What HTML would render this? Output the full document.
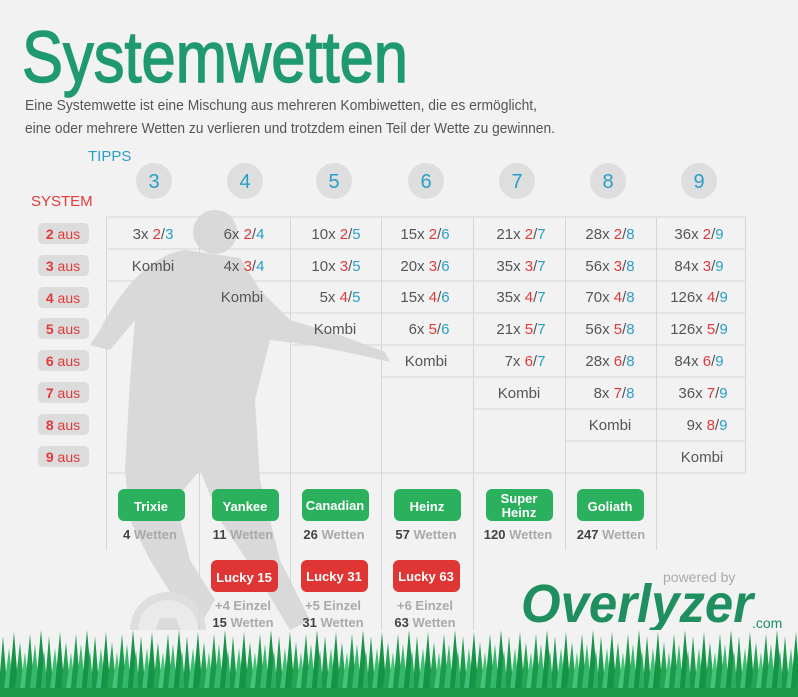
<!DOCTYPE html>
<html><head><meta charset="utf-8"><style>
html,body{margin:0;padding:0;background:#f2f2f2;}
svg{display:block;}
text{font-family:"Liberation Sans",sans-serif;}
</style></head><body>
<svg width="798" height="697" viewBox="0 0 798 697" xmlns="http://www.w3.org/2000/svg">
<defs>
<pattern id="grass" x="0" y="630" width="46" height="67" patternUnits="userSpaceOnUse">
<rect width="46" height="67" fill="#f2f2f2"/>
<polygon points="-2,67 3,6 8,67" fill="#1c9a4b"/>
<polygon points="3,67 9,18 14,67" fill="#3cbf73"/>
<polygon points="8,67 14,2 19,67" fill="#169446"/>
<polygon points="14,67 20,12 25,67" fill="#23a553"/>
<polygon points="19,67 25,22 30,67" fill="#45c47a"/>
<polygon points="24,67 30,4 35,67" fill="#1c9a4b"/>
<polygon points="29,67 35,14 40,67" fill="#34b86a"/>
<polygon points="35,67 41,0 47,67" fill="#169446"/>
<polygon points="40,67 44,20 48,67" fill="#2aae60"/>
<rect y="58" width="46" height="9" fill="#1a9a4a"/>
</pattern>
</defs>
<rect width="798" height="697" fill="#f2f2f2"/>

<!-- silhouette -->
<g fill="#d9d9d9">
<circle cx="215" cy="232" r="22"/>
<path d="M185,250 C150,255 120,290 100,330 L90,345 L110,350 L135,320 L130,380 L125,470 L130,520 L150,560 L175,600 L200,625 L215,600 L190,560 L175,500 L200,470 L220,520 L260,580 L290,630 L310,620 L280,560 L260,480 L255,400 L270,340 L310,345 L360,355 L390,362 L385,352 L340,335 L290,320 L260,290 L240,258 Z"/>
<circle cx="168" cy="630" r="38" fill="#dedede"/>
<circle cx="168" cy="630" r="30" fill="#eaeaea"/>
<polygon points="160,618 176,618 182,634 168,645 154,634" fill="#dadada"/>
</g>

<text x="22" y="82" font-size="72" fill="#1f9a6e" stroke="#1f9a6e" stroke-width="1.5" textLength="386" lengthAdjust="spacingAndGlyphs">Systemwetten</text>
<text x="25" y="110" font-size="15" fill="#555" textLength="512" lengthAdjust="spacingAndGlyphs">Eine Systemwette ist eine Mischung aus mehreren Kombiwetten, die es ermöglicht,</text>
<text x="25" y="133" font-size="15" fill="#555" textLength="530" lengthAdjust="spacingAndGlyphs">eine oder mehrere Wetten zu verlieren und trotzdem einen Teil der Wette zu gewinnen.</text>

<text x="88" y="161" font-size="15" fill="#2a9fc9">TIPPS</text>
<text x="31" y="206" font-size="15" fill="#e03a3a">SYSTEM</text>

<g fill="#dedede">
<circle cx="154" cy="181" r="18"/><circle cx="245" cy="181" r="18"/><circle cx="334" cy="181" r="18"/>
<circle cx="426" cy="181" r="18"/><circle cx="517" cy="181" r="18"/><circle cx="608" cy="181" r="18"/><circle cx="699" cy="181" r="18"/>
</g>
<g font-size="20" fill="#2a9fc9" text-anchor="middle">
<text x="154" y="188">3</text><text x="245" y="188">4</text><text x="334" y="188">5</text>
<text x="426" y="188">6</text><text x="517" y="188">7</text><text x="608" y="188">8</text><text x="699" y="188">9</text>
</g>

<g fill="#dcdcdc">
<rect x="38" y="223" width="51" height="21" rx="5"/><rect x="38" y="255" width="51" height="21" rx="5"/>
<rect x="38" y="287" width="51" height="21" rx="5"/><rect x="38" y="318" width="51" height="21" rx="5"/>
<rect x="38" y="350" width="51" height="21" rx="5"/><rect x="38" y="382" width="51" height="21" rx="5"/>
<rect x="38" y="414" width="51" height="21" rx="5"/><rect x="38" y="446" width="51" height="21" rx="5"/>
</g>
<g font-size="14" fill="#e03a3a" text-anchor="middle">
<text x="63" y="239"><tspan font-weight="bold">2</tspan> aus</text>
<text x="63" y="271"><tspan font-weight="bold">3</tspan> aus</text>
<text x="63" y="303"><tspan font-weight="bold">4</tspan> aus</text>
<text x="63" y="334"><tspan font-weight="bold">5</tspan> aus</text>
<text x="63" y="366"><tspan font-weight="bold">6</tspan> aus</text>
<text x="63" y="398"><tspan font-weight="bold">7</tspan> aus</text>
<text x="63" y="430"><tspan font-weight="bold">8</tspan> aus</text>
<text x="63" y="462"><tspan font-weight="bold">9</tspan> aus</text>
</g>

<g stroke="#d6d6d6" stroke-width="1" fill="none">
<line x1="106" y1="217" x2="745" y2="217"/>
<line x1="106" y1="473" x2="745" y2="473"/>
<line x1="106.5" y1="217" x2="106.5" y2="550"/>
<line x1="199.5" y1="217" x2="199.5" y2="635"/>
<line x1="290.5" y1="217" x2="290.5" y2="635"/>
<line x1="381.5" y1="217" x2="381.5" y2="635"/>
<line x1="473.5" y1="217" x2="473.5" y2="635"/>
<line x1="565.5" y1="217" x2="565.5" y2="550"/>
<line x1="656.5" y1="217" x2="656.5" y2="550"/>
<line x1="745.5" y1="217" x2="745.5" y2="473"/>
<line x1="106" y1="249" x2="199" y2="249"/><line x1="106" y1="281" x2="199" y2="281"/>
<line x1="199" y1="249" x2="290" y2="249"/><line x1="199" y1="281" x2="290" y2="281"/><line x1="199" y1="313" x2="290" y2="313"/>
<line x1="290" y1="249" x2="381" y2="249"/><line x1="290" y1="281" x2="381" y2="281"/><line x1="290" y1="313" x2="381" y2="313"/><line x1="290" y1="345" x2="381" y2="345"/>
<line x1="381" y1="249" x2="473" y2="249"/><line x1="381" y1="281" x2="473" y2="281"/><line x1="381" y1="313" x2="473" y2="313"/><line x1="381" y1="345" x2="473" y2="345"/><line x1="381" y1="377" x2="473" y2="377"/>
<line x1="473" y1="249" x2="565" y2="249"/><line x1="473" y1="281" x2="565" y2="281"/><line x1="473" y1="313" x2="565" y2="313"/><line x1="473" y1="345" x2="565" y2="345"/><line x1="473" y1="377" x2="565" y2="377"/><line x1="473" y1="409" x2="565" y2="409"/>
<line x1="565" y1="249" x2="745" y2="249"/><line x1="565" y1="281" x2="745" y2="281"/><line x1="565" y1="313" x2="745" y2="313"/><line x1="565" y1="345" x2="745" y2="345"/><line x1="565" y1="377" x2="745" y2="377"/><line x1="565" y1="409" x2="745" y2="409"/><line x1="565" y1="441" x2="745" y2="441"/>
</g>

<g font-size="15" fill="#555" text-anchor="middle">
<text x="153" y="239">3x <tspan fill="#e03a3a">2</tspan>/<tspan fill="#2a9fc9">3</tspan></text>
<text x="153" y="271">Kombi</text>
<text x="244" y="239">6x <tspan fill="#e03a3a">2</tspan>/<tspan fill="#2a9fc9">4</tspan></text>
<text x="244" y="271">4x <tspan fill="#e03a3a">3</tspan>/<tspan fill="#2a9fc9">4</tspan></text>
<text x="242" y="302">Kombi</text>
<text x="336" y="239">10x <tspan fill="#e03a3a">2</tspan>/<tspan fill="#2a9fc9">5</tspan></text>
<text x="336" y="271">10x <tspan fill="#e03a3a">3</tspan>/<tspan fill="#2a9fc9">5</tspan></text>
<text x="340" y="302">5x <tspan fill="#e03a3a">4</tspan>/<tspan fill="#2a9fc9">5</tspan></text>
<text x="335" y="334">Kombi</text>
<text x="425" y="239">15x <tspan fill="#e03a3a">2</tspan>/<tspan fill="#2a9fc9">6</tspan></text>
<text x="425" y="271">20x <tspan fill="#e03a3a">3</tspan>/<tspan fill="#2a9fc9">6</tspan></text>
<text x="425" y="302">15x <tspan fill="#e03a3a">4</tspan>/<tspan fill="#2a9fc9">6</tspan></text>
<text x="429" y="334">6x <tspan fill="#e03a3a">5</tspan>/<tspan fill="#2a9fc9">6</tspan></text>
<text x="426" y="366">Kombi</text>
<text x="521" y="239">21x <tspan fill="#e03a3a">2</tspan>/<tspan fill="#2a9fc9">7</tspan></text>
<text x="521" y="271">35x <tspan fill="#e03a3a">3</tspan>/<tspan fill="#2a9fc9">7</tspan></text>
<text x="521" y="302">35x <tspan fill="#e03a3a">4</tspan>/<tspan fill="#2a9fc9">7</tspan></text>
<text x="521" y="334">21x <tspan fill="#e03a3a">5</tspan>/<tspan fill="#2a9fc9">7</tspan></text>
<text x="525" y="366">7x <tspan fill="#e03a3a">6</tspan>/<tspan fill="#2a9fc9">7</tspan></text>
<text x="519" y="398">Kombi</text>
<text x="610" y="239">28x <tspan fill="#e03a3a">2</tspan>/<tspan fill="#2a9fc9">8</tspan></text>
<text x="610" y="271">56x <tspan fill="#e03a3a">3</tspan>/<tspan fill="#2a9fc9">8</tspan></text>
<text x="610" y="302">70x <tspan fill="#e03a3a">4</tspan>/<tspan fill="#2a9fc9">8</tspan></text>
<text x="610" y="334">56x <tspan fill="#e03a3a">5</tspan>/<tspan fill="#2a9fc9">8</tspan></text>
<text x="610" y="366">28x <tspan fill="#e03a3a">6</tspan>/<tspan fill="#2a9fc9">8</tspan></text>
<text x="614" y="398">8x <tspan fill="#e03a3a">7</tspan>/<tspan fill="#2a9fc9">8</tspan></text>
<text x="610" y="430">Kombi</text>
<text x="699" y="239">36x <tspan fill="#e03a3a">2</tspan>/<tspan fill="#2a9fc9">9</tspan></text>
<text x="699" y="271">84x <tspan fill="#e03a3a">3</tspan>/<tspan fill="#2a9fc9">9</tspan></text>
<text x="699" y="302">126x <tspan fill="#e03a3a">4</tspan>/<tspan fill="#2a9fc9">9</tspan></text>
<text x="699" y="334">126x <tspan fill="#e03a3a">5</tspan>/<tspan fill="#2a9fc9">9</tspan></text>
<text x="699" y="366">84x <tspan fill="#e03a3a">6</tspan>/<tspan fill="#2a9fc9">9</tspan></text>
<text x="703" y="398">36x <tspan fill="#e03a3a">7</tspan>/<tspan fill="#2a9fc9">9</tspan></text>
<text x="707" y="430">9x <tspan fill="#e03a3a">8</tspan>/<tspan fill="#2a9fc9">9</tspan></text>
<text x="702" y="462">Kombi</text>
</g>

<g fill="#2bb15e">
<rect x="118" y="489" width="67" height="32" rx="6"/>
<rect x="212" y="489" width="67" height="32" rx="6"/>
<rect x="302" y="489" width="67" height="32" rx="6"/>
<rect x="394" y="489" width="67" height="32" rx="6"/>
<rect x="486" y="489" width="67" height="32" rx="6"/>
<rect x="577" y="489" width="67" height="32" rx="6"/>
</g>
<g font-size="13" font-weight="bold" fill="#fff" text-anchor="middle">
<text x="151" y="511">Trixie</text>
<text x="245" y="511">Yankee</text>
<text x="335" y="510">Canadian</text>
<text x="427" y="511">Heinz</text>
<text x="519" y="503">Super</text>
<text x="519" y="517">Heinz</text>
<text x="610" y="511">Goliath</text>
</g>
<g font-size="13" font-weight="bold" fill="#aaa" text-anchor="middle">
<text x="150" y="539"><tspan fill="#444">4</tspan> Wetten</text>
<text x="243" y="539"><tspan fill="#444">11</tspan> Wetten</text>
<text x="334" y="539"><tspan fill="#444">26</tspan> Wetten</text>
<text x="426" y="539"><tspan fill="#444">57</tspan> Wetten</text>
<text x="518" y="539"><tspan fill="#444">120</tspan> Wetten</text>
<text x="611" y="539"><tspan fill="#444">247</tspan> Wetten</text>
</g>
<g fill="#e03535">
<rect x="211" y="560" width="67" height="32" rx="6"/>
<rect x="301" y="560" width="67" height="32" rx="6"/>
<rect x="393" y="560" width="67" height="32" rx="6"/>
</g>
<g font-size="13" font-weight="bold" fill="#fff" text-anchor="middle">
<text x="244" y="582">Lucky 15</text>
<text x="334" y="581">Lucky 31</text>
<text x="426" y="581">Lucky 63</text>
</g>
<g font-size="13" font-weight="bold" fill="#aaa" text-anchor="middle">
<text x="243" y="610">+4 Einzel</text>
<text x="333" y="610">+5 Einzel</text>
<text x="425" y="610">+6 Einzel</text>
<text x="243" y="627"><tspan fill="#444">15</tspan> Wetten</text>
<text x="333" y="627"><tspan fill="#444">31</tspan> Wetten</text>
<text x="425" y="627"><tspan fill="#444">63</tspan> Wetten</text>
</g>

<text x="663" y="582" font-size="14" fill="#aaa">powered by</text>
<text x="521" y="622" font-size="54" font-weight="bold" font-style="italic" fill="#1f8f5f" textLength="232" lengthAdjust="spacingAndGlyphs">Overlyzer</text>
<text x="752" y="628" font-size="14" fill="#1f8f5f">.com</text>

<rect x="0" y="630" width="798" height="67" fill="url(#grass)"/>
</svg>
</body></html>
